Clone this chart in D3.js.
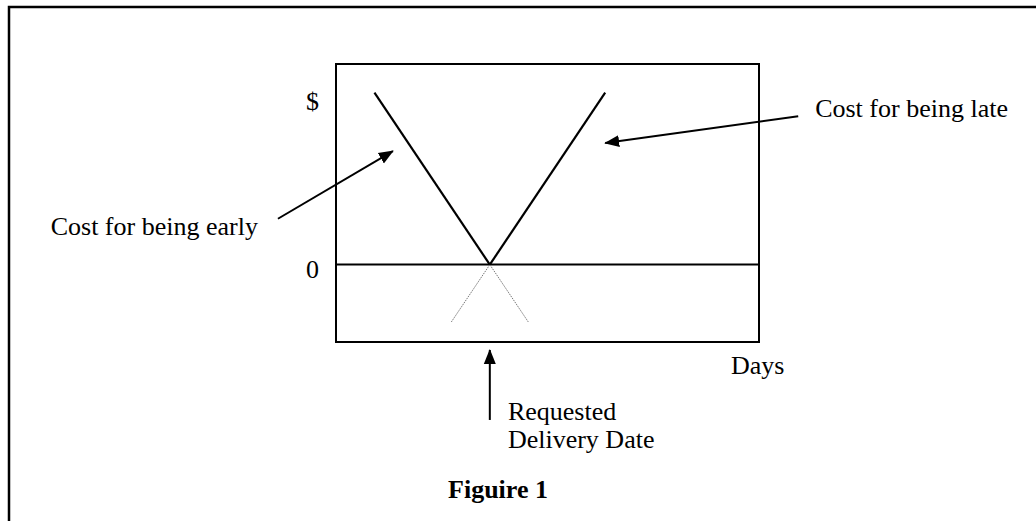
<!DOCTYPE html>
<html>
<head>
<meta charset="utf-8">
<script src="https://cdn.jsdelivr.net/npm/d3@7/dist/d3.min.js"></script>
<style>
  html, body { margin: 0; padding: 0; background: #fff; }
  svg { display: block; }
  text { font-family: "Liberation Serif", "Times New Roman", serif; fill: #000; }
</style>
</head>
<body>
<svg width="1036" height="521"></svg>
<script>
// days relative to the requested delivery date, cost in arbitrary $ units
const earlyDays = [-3, 0]
const earlyCost = [3, 0]
const lateDays = [0, 3]
const lateCost = [0, 3]
// faint continuation of each line below zero
const earlyExtDays = [0, 1]
const earlyExtCost = [0, -1]
const lateExtDays = [-1, 0]
const lateExtCost = [-1, 0]

const yLabels = ["$", "0"]
const yLabelAt = [2.7, -0.23]

// annotations: [text, day, cost]
const noteText = ["Cost for being early", "Cost for being late", "Days", "Requested", "Delivery Date"]
const noteDay = [-6.03, 8.46, 6.27, 0.47, 0.47]
const noteCost = [0.52, 2.58, -1.91, -2.71, -3.2]
const noteAnchor = ["end", "start", "start", "start", "start"]

// arrows: from [day, cost] to [day, cost]
const arrowFrom = [[-5.51, 0.8], [8.02, 2.59], [0, -2.71]]
const arrowTo = [[-2.52, 1.98], [3.0, 2.12], [0, -1.49]]

const svg = d3.select("svg")

const x = d3.scaleLinear().domain([-4, 7]).range([336, 759])
const y = d3.scaleLinear().domain([-1.35, 3.5]).range([342, 64])

// outer frame (runs off the right and bottom of the picture)
svg.append("path")
	.attr("d", "M1040,7 L9,7 L9,530")
	.attr("fill", "none").attr("stroke", "#000").attr("stroke-width", 2.5)

// marker
svg.append("defs").append("marker")
	.attr("id", "head")
	.attr("markerUnits", "userSpaceOnUse")
	.attr("viewBox", "0 -7 15 14")
	.attr("refX", 14).attr("refY", 0)
	.attr("markerWidth", 15).attr("markerHeight", 14)
	.attr("orient", "auto")
	.append("path").attr("d", "M0,-6L15,0L0,6Z").attr("fill", "#000")

// plot box
svg.append("rect")
	.attr("x", x(-4)).attr("y", y(3.5))
	.attr("width", x(7) - x(-4)).attr("height", y(-1.35) - y(3.5))
	.attr("fill", "none").attr("stroke", "#000").attr("stroke-width", 2)

// zero line
svg.append("line")
	.attr("x1", x(-4)).attr("x2", x(7))
	.attr("y1", y(0)).attr("y2", y(0))
	.attr("stroke", "#000").attr("stroke-width", 2)

const line = d3.line().x(d => x(d[0])).y(d => y(d[1]))
const zip = (a, b) => a.map((v, i) => [v, b[i]])

// dotted extensions
;[zip(earlyExtDays, earlyExtCost), zip(lateExtDays, lateExtCost)].forEach(pts => {
	svg.append("path")
		.attr("d", line(pts))
		.attr("fill", "none").attr("stroke", "#777")
		.attr("stroke-width", 1).attr("stroke-dasharray", "1.5,1")
})

// cost lines
;[zip(earlyDays, earlyCost), zip(lateDays, lateCost)].forEach(pts => {
	svg.append("path")
		.attr("d", line(pts))
		.attr("fill", "none").attr("stroke", "#000").attr("stroke-width", 2.2)
})

// y labels
svg.selectAll("text.ylab")
	.data(yLabels).enter().append("text")
	.attr("class", "ylab")
	.attr("x", x(-4) - 17)
	.attr("y", (d, i) => y(yLabelAt[i]))
	.attr("text-anchor", "end")
	.attr("font-size", 26)
	.text(d => d)

// arrows
svg.selectAll("line.arrow")
	.data(arrowFrom).enter().append("line")
	.attr("class", "arrow")
	.attr("x1", d => x(d[0])).attr("y1", d => y(d[1]))
	.attr("x2", (d, i) => x(arrowTo[i][0])).attr("y2", (d, i) => y(arrowTo[i][1]))
	.attr("stroke", "#000").attr("stroke-width", 2)
	.attr("marker-end", "url(#head)")

// notes
svg.selectAll("text.note")
	.data(noteText).enter().append("text")
	.attr("class", "note")
	.attr("x", (d, i) => x(noteDay[i]))
	.attr("y", (d, i) => y(noteCost[i]))
	.attr("text-anchor", (d, i) => noteAnchor[i])
	.attr("font-size", 26)
	.text(d => d)

// caption
svg.append("text")
	.attr("x", 498).attr("y", 498)
	.attr("text-anchor", "middle")
	.attr("font-size", 26).attr("font-weight", "bold")
	.text("Figuire 1")
</script>
</body>
</html>
